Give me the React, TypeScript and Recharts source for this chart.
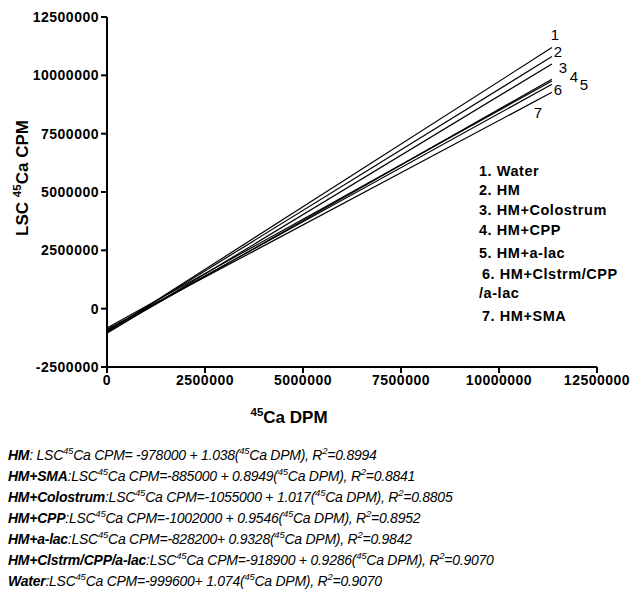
import { LineChart, Line, XAxis, YAxis, LabelList } from 'recharts';

// fitted lines, evaluated at the two ends of the DPM range
const dpm = [0, 11350000];
const water = [-999600, 11190300];
const hm = [-978000, 10803300];
const colostrum = [-1055000, 10487950];
const cpp = [-1002000, 9832710];
const alac = [-828200, 9759080];
const combo = [-918900, 9620710];
const sma = [-885000, 9272115];

const seriesKeys = ['water', 'hm', 'colostrum', 'cpp', 'alac', 'combo', 'sma'];
const lineNumbers = ['1', '2', '3', '4', '5', '6', '7'];
const legendItems = ['1. Water', '2. HM', '3. HM+Colostrum', '4. HM+CPP', '5. HM+a-lac', '6. HM+Clstrm/CPP', '/a-lac', '7. HM+SMA'];

const xTicks = [0, 2500000, 5000000, 7500000, 10000000, 12500000];
const yTicks = [-2500000, 0, 2500000, 5000000, 7500000, 10000000, 12500000];

// equation rows: bold name, separator, intercept part, slope, R2
const eqNames = ['HM', 'HM+SMA', 'HM+Colostrum', 'HM+CPP', 'HM+a-lac', 'HM+Clstrm/CPP/a-lac', 'Water'];
const eqSep = [': ', ':', ':', ':', ':', ':', ':'];
const eqIntercepts = [' -978000 + ', '-885000 + ', '-1055000 + ', '-1002000 + ', '-828200+ ', '-918900 + ', '-999600+ '];
const eqSlopes = ['1.038', '0.8949', '1.017', '0.9546', '0.9328', '0.9286', '1.074'];
const eqR2 = ['0.8994', '0.8841', '0.8805', '0.8952', '0.9842', '0.9070', '0.9070'];

const data = dpm.map((x, i) => ({
  x,
  water: water[i],
  hm: hm[i],
  colostrum: colostrum[i],
  cpp: cpp[i],
  alac: alac[i],
  combo: combo[i],
  sma: sma[i],
}));

// where each number label sits relative to the end of its line
const labelOffsets = [
  [3, -13], [6, -5], [11, 4], [22, -3], [32, 4], [6, 5], [-14, 20],
];

const font = '"Liberation Sans", Arial, sans-serif';
const legendTops = [171, 190, 210, 230, 253, 274, 293, 316];
const legendLefts = [479, 479, 479, 479, 479, 482, 479, 482];

const sup = { fontSize: '0.68em', verticalAlign: 'super', lineHeight: 0 } as const;
const tickStyle = { fill: '#000', fontSize: 14, fontWeight: 'bold', fontFamily: font, letterSpacing: 0.5 };

export default function App() {
  return (
    <div style={{ position: 'absolute', left: 0, top: 0, width: 632, height: 594, background: '#fff', fontFamily: font, color: '#000' }}>
      <LineChart width={632} height={594} data={data} margin={{ top: 17, right: 35, left: 0, bottom: 197 }}>
        <XAxis
          dataKey="x"
          type="number"
          domain={[0, 12500000]}
          ticks={xTicks}
          height={30}
          tickSize={6}
          stroke="#000"
          axisLine={{ stroke: '#000', strokeWidth: 2 }}
          tickLine={{ stroke: '#000', strokeWidth: 2 }}
          tick={tickStyle}
          interval={0}
        />
        <YAxis
          type="number"
          domain={[-2500000, 12500000]}
          ticks={yTicks}
          width={107}
          tickSize={6}
          stroke="#000"
          axisLine={{ stroke: '#000', strokeWidth: 2 }}
          tickLine={{ stroke: '#000', strokeWidth: 2 }}
          tick={tickStyle}
          interval={0}
        />
        {seriesKeys.map((key, s) => (
          <Line
            key={key}
            dataKey={key}
            stroke="#000"
            strokeWidth={1.2}
            dot={false}
            type="linear"
            isAnimationActive={false}
          >
            <LabelList
              dataKey={key}
              content={(props: any) => {
                if (props.index !== 1) return null;
                return (
                  <text
                    x={props.x + labelOffsets[s][0]}
                    y={props.y + labelOffsets[s][1]}
                    textAnchor="middle"
                    dominantBaseline="central"
                    fontSize={15}
                    fontFamily={font}
                    fill="#000"
                  >
                    {lineNumbers[s]}
                  </text>
                );
              }}
            />
          </Line>
        ))}
      </LineChart>

      {/* y axis title */}
      <div style={{ position: 'absolute', left: 23, top: 178, transform: 'translate(-50%, -50%) rotate(-90deg)', whiteSpace: 'nowrap', fontSize: 17, fontWeight: 'bold' }}>
        LSC <span style={sup}>45</span>Ca CPM
      </div>

      {/* x axis title */}
      <div style={{ position: 'absolute', left: 289, top: 418, transform: 'translate(-50%, -50%)', whiteSpace: 'nowrap', fontSize: 17, fontWeight: 'bold' }}>
        <span style={sup}>45</span>Ca DPM
      </div>

      {/* legend */}
      {legendItems.map((t, i) => (
        <div key={t} style={{ position: 'absolute', left: legendLefts[i], top: legendTops[i], transform: 'translateY(-50%)', whiteSpace: 'nowrap', fontSize: 14.5, fontWeight: 'bold', letterSpacing: 0.55 }}>
          {t}
        </div>
      ))}

      {/* regression equations */}
      {eqNames.map((n, i) => (
        <div key={n} style={{ position: 'absolute', left: 8, top: 455 + i * 21, transform: 'translateY(-50%)', whiteSpace: 'nowrap', fontSize: 14, fontStyle: 'italic', letterSpacing: -0.25 }}>
          <b>{n}</b>{eqSep[i]}LSC<span style={sup}>45</span>Ca CPM={eqIntercepts[i]}{eqSlopes[i]}(<span style={sup}>45</span>Ca DPM), R<span style={sup}>2</span>={eqR2[i]}
        </div>
      ))}
    </div>
  );
}
